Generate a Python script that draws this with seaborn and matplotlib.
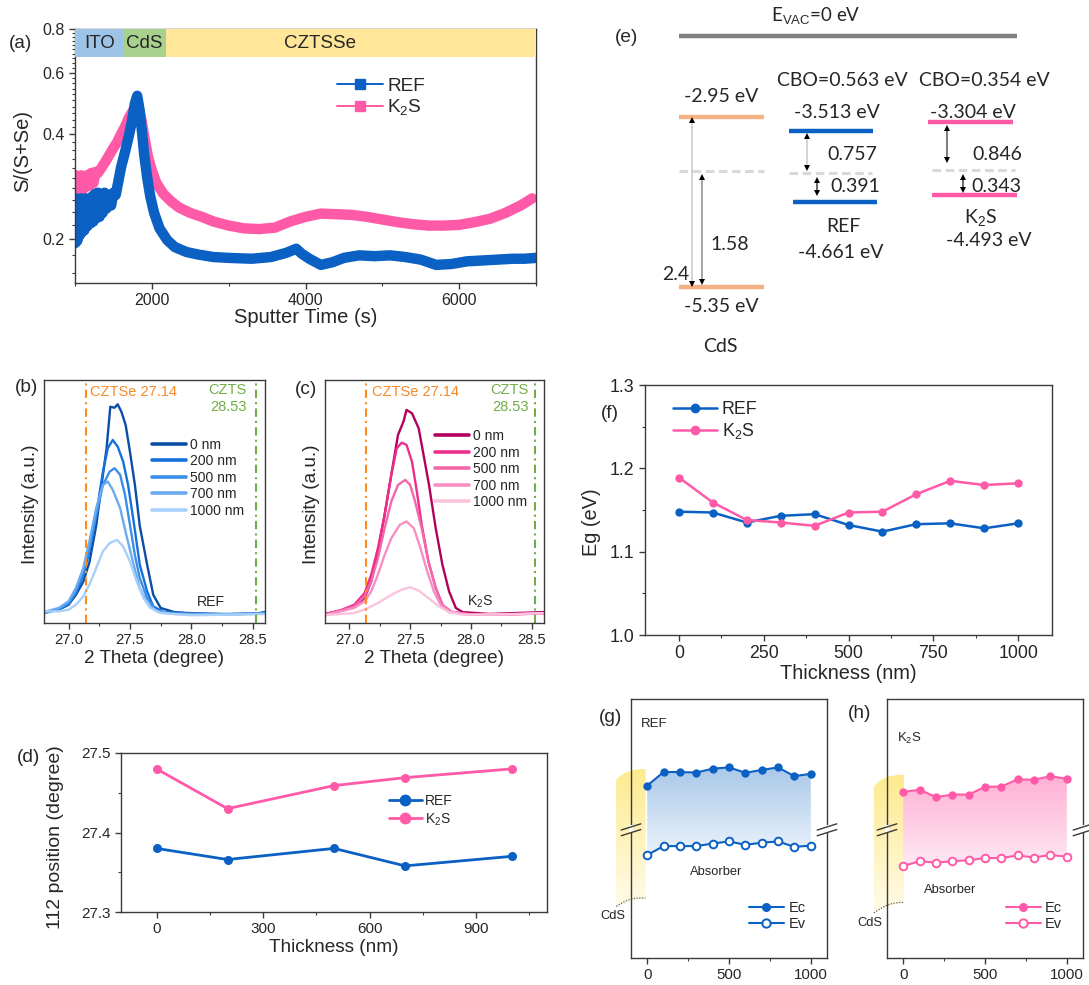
import numpy as np
import pandas as pd
import matplotlib
matplotlib.use("Agg")
import matplotlib.pyplot as plt
import matplotlib.ticker as mticker
import seaborn as sns
from matplotlib.lines import Line2D
from matplotlib.patches import Rectangle, PathPatch
from matplotlib.path import Path
from matplotlib.colors import to_rgb
from matplotlib.transforms import blended_transform_factory

# ---------------- data ----------------
# (a) S/(S+Se) depth profile
ref_time = [1000, 1015, 1030, 1045, 1060, 1075, 1090, 1105, 1120, 1140, 1160, 1180, 1200, 1220,
            1240, 1260, 1280, 1300, 1320, 1340, 1360, 1385, 1410, 1440, 1470, 1500, 1530,
            1560, 1600, 1650, 1700, 1740, 1780, 1810, 1840, 1870, 1900,
            1940, 1980, 2030, 2100, 2200, 2300, 2450, 2600, 2800, 3000, 3300, 3550, 3750, 3880,
            3950, 4050, 4200, 4350, 4500, 4700, 4900, 5100, 5300, 5500, 5700, 5900, 6100, 6300,
            6500, 6700, 6850, 7000]
ref_ratio = [0.195, 0.262, 0.198, 0.255, 0.205, 0.262, 0.210, 0.250, 0.212, 0.262, 0.218, 0.258,
             0.222, 0.265, 0.225, 0.270, 0.230, 0.272, 0.232, 0.268, 0.238, 0.272, 0.245, 0.268,
             0.250, 0.272, 0.268, 0.290, 0.322, 0.355, 0.395, 0.435, 0.490,
             0.515, 0.470, 0.410, 0.350, 0.300, 0.265, 0.238, 0.215, 0.199, 0.190, 0.184, 0.181,
             0.178, 0.177, 0.176, 0.178, 0.183, 0.188, 0.182, 0.176, 0.169, 0.172, 0.177, 0.180,
             0.179, 0.180, 0.178, 0.175, 0.169, 0.170, 0.173, 0.174, 0.175, 0.176, 0.176, 0.177]
k2s_time = [1000, 1015, 1030, 1045, 1060, 1080, 1100, 1120, 1140, 1165, 1190, 1215, 1240, 1270,
            1300, 1350, 1400, 1450, 1500, 1550,
            1600, 1650, 1700, 1750, 1800, 1830, 1860, 1900, 1950, 2000, 2060, 2150, 2250, 2350,
            2500, 2650, 2800, 3000, 3200, 3400, 3600, 3800, 4000, 4200, 4400, 4600, 4800, 5000,
            5200, 5400, 5600, 5800, 6000, 6200, 6400, 6600, 6800, 6950]
k2s_ratio = [0.268, 0.305, 0.270, 0.302, 0.275, 0.305, 0.278, 0.300, 0.282, 0.306, 0.285, 0.310,
             0.290, 0.312, 0.310, 0.322, 0.335, 0.350,
             0.365, 0.380, 0.400, 0.420, 0.445, 0.465, 0.480, 0.475, 0.445, 0.395, 0.345, 0.315,
             0.290, 0.270, 0.257, 0.247, 0.238, 0.232, 0.225, 0.219, 0.215, 0.214, 0.216, 0.225,
             0.232, 0.237, 0.236, 0.235, 0.232, 0.228, 0.224, 0.221, 0.219, 0.219, 0.220, 0.224,
             0.229, 0.238, 0.250, 0.262]
layer_names = ["ITO", "CdS", "CZTSSe"]
layer_edges = [1000, 1630, 2185, 7000]

# (b)/(c) XRD (112) peak at different depths: (2theta, intensity a.u.)
depth_labels = ["0 nm", "200 nm", "500 nm", "700 nm", "1000 nm"]
ref_xrd_0 = [(26.80, 4.5), (26.92, 5.5), (27.00, 7.5), (27.06, 11.6), (27.12, 17), (27.17, 25),
             (27.225, 40), (27.28, 61), (27.31, 72), (27.34, 89), (27.375, 88.6), (27.40, 90),
             (27.43, 87), (27.465, 81.5), (27.50, 70.5), (27.54, 57), (27.58, 40), (27.64, 24),
             (27.69, 11.6), (27.75, 6.2), (27.86, 4.5), (28.0, 4.0), (28.27, 3.7), (28.52, 3.8),
             (28.60, 4.5)]
ref_xrd_200 = [(26.80, 4.1), (26.92, 5.5), (27.00, 7.8), (27.06, 12.3), (27.12, 19.9), (27.17, 29.5),
               (27.225, 44.5), (27.28, 62.3), (27.32, 72), (27.36, 75.3), (27.40, 72.6),
               (27.445, 66.4), (27.485, 56.8), (27.53, 41.8), (27.58, 24), (27.64, 13), (27.69, 6.8),
               (27.775, 4.5), (28.0, 3.8), (28.3, 3.6), (28.6, 4.0)]
ref_xrd_500 = [(26.80, 4.1), (26.92, 5.8), (27.00, 8.2), (27.06, 13), (27.12, 21.2), (27.17, 30.8),
               (27.225, 44.5), (27.28, 56.8), (27.335, 62.3), (27.375, 63.7), (27.42, 61),
               (27.46, 52.7), (27.50, 40.4), (27.54, 28), (27.58, 18.5), (27.64, 10.3),
               (27.705, 5.5), (27.80, 4.1), (28.0, 3.7), (28.3, 3.6), (28.6, 4.0)]
ref_xrd_700 = [(26.80, 4.5), (26.92, 6.2), (27.00, 8.9), (27.06, 14.4), (27.12, 22.6), (27.17, 33.6),
               (27.225, 47.3), (27.28, 56.8), (27.32, 58.2), (27.36, 54.8), (27.42, 47.3),
               (27.47, 36.3), (27.53, 24), (27.58, 14.4), (27.64, 8.2), (27.72, 4.8), (27.86, 3.7),
               (28.1, 3.6), (28.4, 3.6), (28.6, 3.9)]
ref_xrd_1000 = [(26.80, 4.8), (26.92, 4.8), (27.00, 5.5), (27.06, 7.5), (27.12, 11), (27.17, 15.8),
                (27.225, 22.6), (27.28, 29.5), (27.335, 32.9), (27.395, 34.2), (27.445, 31.5),
                (27.50, 25.3), (27.555, 17.1), (27.61, 10.3), (27.665, 6.2), (27.75, 4.1),
                (28.0, 3.2), (28.3, 3.4), (28.6, 3.7)]
k2s_xrd_0 = [(26.80, 3.7), (26.93, 5.1), (27.04, 6.8), (27.125, 10.3), (27.18, 17.1), (27.235, 29.5),
             (27.29, 44.5), (27.345, 61), (27.40, 77.4), (27.445, 82.9), (27.47, 87.7), (27.515, 86.3),
             (27.57, 80.1), (27.61, 69.2), (27.655, 56.8), (27.71, 39), (27.765, 24), (27.82, 13),
             (27.875, 6.2), (27.93, 4.5), (28.15, 3.7), (28.6, 4.5)]
k2s_xrd_200 = [(26.80, 3.7), (26.93, 5.3), (27.04, 7.5), (27.125, 12.3), (27.18, 19.9), (27.235, 30.8),
               (27.29, 44.5), (27.345, 61), (27.39, 71.9), (27.43, 74.2), (27.47, 73.3), (27.515, 66.4),
               (27.555, 54.1), (27.595, 40.4), (27.65, 25.3), (27.71, 14.4), (27.765, 7.5),
               (27.82, 4.5), (28.0, 3.7), (28.3, 3.6), (28.6, 4.0)]
k2s_xrd_500 = [(26.80, 3.4), (26.93, 5.1), (27.04, 6.8), (27.125, 11), (27.18, 17.1), (27.235, 26.7),
               (27.29, 39), (27.345, 50), (27.40, 56.8), (27.46, 58.9), (27.50, 56.8), (27.54, 50),
               (27.595, 39), (27.65, 25.3), (27.71, 14.4), (27.765, 7.5), (27.845, 4.5), (28.0, 3.4),
               (28.3, 3.5), (28.6, 4.0)]
k2s_xrd_700 = [(26.80, 3.4), (26.93, 4.8), (27.04, 6.2), (27.125, 8.9), (27.18, 13), (27.235, 19.9),
               (27.29, 28), (27.345, 34.9), (27.415, 40.4), (27.47, 41.8), (27.53, 39), (27.585, 30.8),
               (27.64, 21.2), (27.695, 13), (27.75, 7.5), (27.82, 4.8), (28.0, 3.4), (28.3, 3.5),
               (28.6, 3.9)]
k2s_xrd_1000 = [(26.80, 3.2), (26.93, 3.7), (27.04, 4.1), (27.125, 5.5), (27.235, 8.2), (27.345, 11.6),
                (27.43, 13.7), (27.50, 14.7), (27.57, 13.3), (27.65, 10.3), (27.735, 6.8), (27.82, 4.5),
                (27.93, 3.4), (28.3, 3.6), (28.6, 4.1)]
cztse_peak = 27.14
czts_peak = 28.53

# (d) 112 peak position vs thickness
pos_thick = [0, 200, 500, 700, 1000]
ref_pos = [27.380, 27.366, 27.380, 27.358, 27.370]
k2s_pos = [27.480, 27.430, 27.459, 27.469, 27.480]

# (e) band alignment
mat_names = ["CdS", "REF", "K$_2$S"]
cb_energy = [-2.95, -3.513, -3.304]
vb_energy = [-5.35, -4.661, -4.493]
cbo_values = [None, 0.563, 0.354]
upper_gaps = ["2.4", "0.757", "0.846"]
lower_gaps = ["1.58", "0.391", "0.343"]

# (f) band gap vs thickness
eg_thick = [0, 100, 200, 300, 400, 500, 600, 700, 800, 900, 1000]
ref_eg = [1.148, 1.147, 1.135, 1.143, 1.145, 1.132, 1.124, 1.133, 1.134, 1.128, 1.134]
k2s_eg = [1.189, 1.159, 1.138, 1.135, 1.131, 1.147, 1.148, 1.169, 1.185, 1.180, 1.182]

# (g)/(h) relative band edges (arb. units)
ref_ec = [0.666, 0.718, 0.718, 0.716, 0.731, 0.736, 0.715, 0.726, 0.736, 0.702, 0.711]
ref_ev = [0.398, 0.432, 0.432, 0.432, 0.442, 0.450, 0.437, 0.445, 0.450, 0.429, 0.434]
k2s_ec = [0.641, 0.650, 0.621, 0.631, 0.631, 0.661, 0.662, 0.690, 0.688, 0.702, 0.692]
k2s_ev = [0.355, 0.374, 0.368, 0.374, 0.377, 0.386, 0.386, 0.396, 0.388, 0.398, 0.391]

# ---------------- style ----------------
sns.set_style("ticks")
plt.rcParams["font.family"] = ["Liberation Sans", "DejaVu Sans"]
plt.rcParams["mathtext.fontset"] = "custom"
plt.rcParams["mathtext.rm"] = "Liberation Sans"
plt.rcParams["mathtext.it"] = "Liberation Sans:italic"
plt.rcParams["mathtext.bf"] = "Liberation Sans:bold"
plt.rcParams["axes.edgecolor"] = "#3a3a3a"
plt.rcParams["axes.linewidth"] = 1.0

BLUE = "#0b60c4"
PINK = "#ff5aa8"
ref_shades = ["#0a4ea6", "#1670dc", "#3a8ee8", "#69aaf0", "#a8d0f8"]
k2s_shades = ["#b3005c", "#ec2e8c", "#f468aa", "#f78fc2", "#fbc3dd"]

W, H = 1089, 985
fig = plt.figure(figsize=(W / 100, H / 100), dpi=100)


def box(x0, y0, x1, y1):
    return [x0 / W, 1 - y1 / H, (x1 - x0) / W, (y1 - y0) / H]


def ftext(x, y, s, **kw):
    fig.text(x / W, 1 - y / H, s, **kw)


def style_ticks(ax, size):
    ax.tick_params(axis="both", which="major", direction="out", length=4, width=1,
                   labelsize=size, color="#3a3a3a", top=False, right=False)
    ax.tick_params(axis="both", which="minor", direction="out", length=2.5, width=0.8,
                   color="#3a3a3a", top=False, right=False)
    for s in ax.spines.values():
        s.set_visible(True)


# ---------------- (a) ----------------
ax = fig.add_axes(box(75, 29, 536, 283))
df_a = pd.concat([
    pd.DataFrame({"t": k2s_time, "r": k2s_ratio, "s": "K2S"}),
    pd.DataFrame({"t": ref_time, "r": ref_ratio, "s": "REF"}),
])
ax.set_yscale("log")
sns.lineplot(data=df_a, x="t", y="r", hue="s", palette=[PINK, BLUE], lw=7.5, sort=False,
             estimator=None, legend=False, ax=ax)
for name, x0, x1, c in zip(layer_names, layer_edges[:-1], layer_edges[1:],
                           ["#9dc3e6", "#a9d18e", "#ffe699"]):
    ax.fill_between([x0, x1], 0.665, 0.8, color=c, lw=0, zorder=3)
band_text_x = [1315, 1905, 4190]
for name, tx in zip(layer_names, band_text_x):
    ax.text(tx, 0.728, name, ha="center", va="center", fontsize=13.5, zorder=4)
ax.set_xlim(1000, 7000)
ax.set_ylim(0.15, 0.8)
ax.xaxis.set_major_locator(mticker.FixedLocator([2000, 4000, 6000]))
ax.xaxis.set_minor_locator(mticker.FixedLocator([1000, 3000, 5000, 7000]))
ax.yaxis.set_major_locator(mticker.FixedLocator([0.2, 0.4, 0.6, 0.8]))
ax.yaxis.set_major_formatter(mticker.FixedFormatter(["0.2", "0.4", "0.6", "0.8"]))
ax.yaxis.set_minor_locator(mticker.FixedLocator(np.arange(0.16, 0.8, 0.02)))
ax.yaxis.set_minor_formatter(mticker.NullFormatter())
style_ticks(ax, 11.5)
ax.set_xlabel("Sputter Time (s)", fontsize=14.5)
ax.set_ylabel("S/(S+Se)", fontsize=14.5)
ax.xaxis.set_label_coords(0.5, -0.1)
ax.yaxis.set_label_coords(-0.093, 0.52)
h_a = [Line2D([], [], color=BLUE, lw=1.4, marker="s", ms=6.5),
       Line2D([], [], color=PINK, lw=1.4, marker="s", ms=6.5)]
ax.legend(h_a, ["REF", "K$_2$S"], loc="upper left", bbox_to_anchor=(0.568, 0.81),
          frameon=False, fontsize=13.7, handlelength=2.4, handletextpad=0.25,
          labelspacing=0.15, borderpad=0, borderaxespad=0)
ftext(21, 43, "(a)", fontsize=13.7, ha="center", va="center")


# ---------------- (b), (c) ----------------
def xrd_panel(rect, curves, shades, sample, tag, tag_pos, leg_anchor, sample_x, text_xs):
    ax = fig.add_axes(rect)
    frames = []
    for lab, pts in zip(depth_labels, curves):
        arr = np.array(pts)
        frames.append(pd.DataFrame({"tt": arr[:, 0], "I": arr[:, 1], "d": lab}))
    df = pd.concat(frames)
    sns.lineplot(data=df, x="tt", y="I", hue="d", palette=shades, lw=1.7, sort=False,
                 estimator=None, legend=False, ax=ax)
    ax.axvline(cztse_peak, color="#ff8c1a", lw=1.5, ls=(0, (4, 2, 1, 2)))
    ax.axvline(czts_peak, color="#70ad47", lw=1.5, ls=(0, (4, 2, 1, 2)))
    ax.set_xlim(26.8, 28.6)
    ax.set_ylim(0, 100)
    ax.set_yticks([])
    ax.xaxis.set_major_locator(mticker.MultipleLocator(0.5))
    ax.xaxis.set_minor_locator(mticker.MultipleLocator(0.25))
    ax.xaxis.set_major_formatter(mticker.FormatStrFormatter("%.1f"))
    style_ticks(ax, 10.6)
    ax.set_xlabel("2 Theta (degree)", fontsize=13.6)
    ax.set_ylabel("Intensity (a.u.)", fontsize=13.6)
    ax.xaxis.set_label_coords(0.5, -0.11)
    ax.yaxis.set_label_coords(-0.024, 0.49)
    tr = blended_transform_factory(ax.transData, ax.transAxes)
    ax.text(text_xs[0], 0.952, "CZTSe 27.14", color="#f5892a", fontsize=10.5,
            ha="left", va="center", transform=tr)
    ax.text(text_xs[1], 0.959, "CZTS", color="#70ad47", fontsize=10.5,
            ha="right", va="center", transform=tr)
    ax.text(text_xs[1], 0.889, "28.53", color="#70ad47", fontsize=10.5,
            ha="right", va="center", transform=tr)
    ax.text(sample_x, 0.088, sample, fontsize=10.2, ha="center", va="center", transform=tr)
    hs = [Line2D([], [], color=c, lw=2.6) for c in shades]
    ax.legend(hs, depth_labels, loc="upper left", bbox_to_anchor=leg_anchor, frameon=False,
              fontsize=10, handlelength=2.5, handletextpad=0.25, labelspacing=0.18,
              borderpad=0, borderaxespad=0)
    ftext(tag_pos[0], tag_pos[1], tag, fontsize=13.7, ha="center", va="center")


xrd_panel(box(44, 380, 265, 623),
          [ref_xrd_0, ref_xrd_200, ref_xrd_500, ref_xrd_700, ref_xrd_1000],
          ref_shades, "REF", "(b)", (26, 388), (0.487, 0.762), 28.16, (27.175, 28.453))
xrd_panel(box(325, 380, 544, 623),
          [k2s_xrd_0, k2s_xrd_200, k2s_xrd_500, k2s_xrd_700, k2s_xrd_1000],
          k2s_shades, "K$_2$S", "(c)", (306, 389), (0.501, 0.797), 28.074, (27.186, 28.474))

# ---------------- (d) ----------------
ax = fig.add_axes(box(121, 753, 547, 912))
sns.lineplot(x=pos_thick, y=ref_pos, color=BLUE, lw=2, marker="o", ms=6.5, mew=0, ax=ax)
sns.lineplot(x=pos_thick, y=k2s_pos, color=PINK, lw=2, marker="o", ms=6.5, mew=0, ax=ax)
ax.set_xlim(-100, 1100)
ax.set_ylim(27.3, 27.5)
ax.xaxis.set_major_locator(mticker.FixedLocator([0, 300, 600, 900]))
ax.xaxis.set_minor_locator(mticker.FixedLocator([150, 450, 750, 1050]))
ax.yaxis.set_major_locator(mticker.MultipleLocator(0.1))
ax.yaxis.set_minor_locator(mticker.MultipleLocator(0.05))
ax.yaxis.set_major_formatter(mticker.FormatStrFormatter("%.1f"))
style_ticks(ax, 11)
ax.set_xlabel("Thickness (nm)", fontsize=13.7)
ax.set_ylabel("112 position (degree)", fontsize=14)
ax.xaxis.set_label_coords(0.5, -0.17)
ax.yaxis.set_label_coords(-0.134, 0.47)
h_d = [Line2D([], [], color=BLUE, lw=2, marker="o", ms=8.5, mew=0),
       Line2D([], [], color=PINK, lw=2, marker="o", ms=8.5, mew=0)]
ax.legend(h_d, ["REF", "K$_2$S"], loc="upper left", bbox_to_anchor=(0.628, 0.74),
          frameon=False, fontsize=10, handlelength=2.4, handletextpad=0.25,
          labelspacing=0.2, borderpad=0, borderaxespad=0)
ftext(29, 758, "(d)", fontsize=13.7, ha="center", va="center")

# ---------------- (e) band alignment sketch ----------------
ax = fig.add_axes(box(600, 0, 1089, 360))
ax.set_xlim(600, 1089)
ax.set_ylim(360, 0)
ax.axis("off")
efont = dict(family=["Lato", "DejaVu Sans"], fontsize=14, ha="center", va="center")
mat_colors = ["#f4b183", BLUE, PINK]
cb_y = [117, 131, 122]
vb_y = [287, 202, 195]
mid_y = [171, 173, 170]
cb_x = [(679, 764), (789, 873), (928, 1013)]
vb_x = [(679, 764), (793, 877), (932, 1017)]
mid_x = [(679, 764), (789, 872), (932, 1015)]
ax.plot([679, 1017], [36, 36], color="#808080", lw=3.2, solid_capstyle="butt")
ax.text(816, 16, "E$_{\\mathrm{VAC}}$=0 eV", **{**efont, "fontsize": 13.5})
for i in range(3):
    ax.plot(cb_x[i], [cb_y[i]] * 2, color=mat_colors[i], lw=3.2, solid_capstyle="butt")
    ax.plot(vb_x[i], [vb_y[i]] * 2, color=mat_colors[i], lw=3.2, solid_capstyle="butt")
    ax.plot(mid_x[i], [mid_y[i]] * 2, color="#d9d9d9", lw=2.2, ls=(0, (2.8, 1.5)))
cb_lab = [(721, 96), (837, 113), (973, 113)]
vb_lab = [(721, 306), (841, 252), (989, 241)]
nm_lab = [(720, 346), (843, 227), (980, 217)]
for i in range(3):
    ax.text(*cb_lab[i], f"{cb_energy[i]:.{2 if i == 0 else 3}f} eV", **efont)
    ax.text(*vb_lab[i], f"{vb_energy[i]:.{2 if i == 0 else 3}f} eV", **efont)
    ax.text(*nm_lab[i], mat_names[i], **efont)
ax.text(842, 80, f"CBO={cbo_values[1]:.3f} eV", **efont)
ax.text(984, 80, f"CBO={cbo_values[2]:.3f} eV", **efont)


def gap_arrow(x, y0, y1, lc):
    ax.plot([x, x], [y0 + 3, y1 - 3], color=lc, lw=1.1)
    ax.plot([x], [y0 + 3], marker="^", color="k", ms=4.2, mew=0)
    ax.plot([x], [y1 - 3], marker="v", color="k", ms=4.2, mew=0)


up_arrows = [(691.7, 117, 287, "#c8c8c8"), (807, 133, 171, "#c8c8c8"), (947, 125, 163, "#595959")]
low_arrows = [(702, 174, 285, "#8c8c8c"), (817, 177, 196, "#404040"), (963, 174, 193, "#404040")]
up_txt = [(689, 274, "right"), (827, 155, "left"), (972, 155, "left")]
low_txt = [(710, 244, "left"), (830, 186, "left"), (971, 186, "left")]
for i in range(3):
    gap_arrow(*up_arrows[i])
    gap_arrow(*low_arrows[i])
    ax.text(up_txt[i][0], up_txt[i][1], upper_gaps[i],
            **{**efont, "ha": up_txt[i][2]})
    ax.text(low_txt[i][0], low_txt[i][1], lower_gaps[i],
            **{**efont, "ha": low_txt[i][2]})
ftext(627, 38, "(e)", fontsize=13.7, ha="center", va="center")

# ---------------- (f) ----------------
ax = fig.add_axes(box(645, 385, 1052, 635))
sns.lineplot(x=eg_thick, y=ref_eg, color=BLUE, lw=1.8, marker="o", ms=6, mew=0, ax=ax)
sns.lineplot(x=eg_thick, y=k2s_eg, color=PINK, lw=1.8, marker="o", ms=6, mew=0, ax=ax)
ax.set_xlim(-100, 1100)
ax.set_ylim(1.0, 1.3)
ax.xaxis.set_major_locator(mticker.FixedLocator([0, 250, 500, 750, 1000]))
ax.xaxis.set_minor_locator(mticker.FixedLocator([125, 375, 625, 875]))
ax.yaxis.set_major_locator(mticker.MultipleLocator(0.1))
ax.yaxis.set_minor_locator(mticker.MultipleLocator(0.05))
ax.yaxis.set_major_formatter(mticker.FormatStrFormatter("%.1f"))
style_ticks(ax, 12.8)
ax.set_xlabel("Thickness (nm)", fontsize=14.4)
ax.set_ylabel("Eg (eV)", fontsize=14.4)
ax.xaxis.set_label_coords(0.5, -0.115)
ax.yaxis.set_label_coords(-0.108, 0.45)
h_f = [Line2D([], [], color=BLUE, lw=1.8, marker="o", ms=7, mew=0),
       Line2D([], [], color=PINK, lw=1.8, marker="o", ms=7, mew=0)]
ax.legend(h_f, ["REF", "K$_2$S"], loc="upper left", bbox_to_anchor=(0.068, 0.935),
          frameon=False, fontsize=12.8, handlelength=2.5, handletextpad=0.25,
          labelspacing=0.15, borderpad=0, borderaxespad=0)
ftext(610, 414, "(f)", fontsize=13.7, ha="center", va="center")


# ---------------- (g), (h) ----------------
def mix(c1, c2, f):
    a, b = np.array(to_rgb(c1)), np.array(to_rgb(c2))
    return tuple(a + (b - a) * f)


def striped_gradient(ax, path, y_lo, y_hi, x_lo, x_hi, c_top, c_bot, z, n=70):
    clip = PathPatch(path, transform=ax.transData, fc="none", ec="none")
    dy = (y_hi - y_lo) / n
    for k in range(n):
        f = k / (n - 1)
        r = Rectangle((x_lo, y_hi - (k + 1) * dy), x_hi - x_lo, dy * 1.6,
                      color=mix(c_top, c_bot, f), lw=0, zorder=z)
        ax.add_patch(r)
        r.set_clip_path(clip)
        r.set_clip_box(None)


def band_panel(rect, ec, ev, color, fill_top, fill_bot, cds, name, name_pos, absorb_pos,
               tag, tag_pos, cds_lab, leg_x):
    ax = fig.add_axes(rect)
    ax.set_xlim(-100, 1100)
    ax.set_ylim(0, 1)
    x = np.array(eg_thick, dtype=float)
    verts = np.concatenate([np.column_stack([x, ec]), np.column_stack([x[::-1], ev[::-1]]),
                            [[x[0], ec[0]]]])
    striped_gradient(ax, Path(verts, closed=True), min(ev), max(ec), x.min(), x.max(),
                     fill_top, fill_bot, 0.5)
    # CdS wedge
    xl, xr, tl, tr_, bl, br = cds
    w = xr - xl
    shape = Path([(xl, bl), (xl, tl), (xl + 0.35 * w, tr_ + 0.004), (xr, tr_), (xr, br),
                  (xl + 0.5 * w, br - 0.01), (xl, bl), (xl, bl)],
                 [Path.MOVETO, Path.LINETO, Path.CURVE3, Path.CURVE3, Path.LINETO,
                  Path.CURVE3, Path.CURVE3, Path.CLOSEPOLY])
    striped_gradient(ax, shape, bl - 0.02, tr_ + 0.01, xl - 5, xr + 5, "#fde98c", "#fffbea",
                     0.4, n=60)
    bx = np.linspace(0, 1, 20)
    ax.plot(xl + bx * w, bl + (br - bl) * bx + 0.012 * np.sin(np.pi * bx), color="#606060",
            lw=0.9, ls=(0, (1, 1.2)), clip_on=False)
    sns.lineplot(x=eg_thick, y=ec, color=color, lw=1.5, marker="o", ms=6, mew=0, ax=ax)
    sns.lineplot(x=eg_thick, y=ev, color=color, lw=1.5, marker="o", ms=5.5, mfc="white",
                 mec=color, mew=1.4, ax=ax)
    ax.set_xlim(-100, 1100)
    ax.set_ylim(0, 1)
    ax.set_yticks([])
    ax.xaxis.set_major_locator(mticker.FixedLocator([0, 500, 1000]))
    ax.xaxis.set_minor_locator(mticker.FixedLocator([250, 750]))
    style_ticks(ax, 10.8)
    ax.set_xlabel("")
    ax.set_ylabel("")
    # axis break marks
    yb = 0.495
    for xs in (0, 1):
        ax.add_patch(Rectangle((xs - 0.012, yb - 0.012), 0.024, 0.03, transform=ax.transAxes,
                               color="white", lw=0, clip_on=False, zorder=5))
        for off in (-0.011, 0.011):
            ax.plot([xs - 0.05, xs + 0.05], [yb + off - 0.012, yb + off + 0.012],
                    transform=ax.transAxes, color="#3a3a3a", lw=1, clip_on=False, zorder=6)
    ax.text(name_pos[0], name_pos[1], name, transform=ax.transAxes, fontsize=9.5,
            ha="left", va="center")
    ax.text(absorb_pos[0], absorb_pos[1], "Absorber", transform=ax.transAxes, fontsize=9.3,
            ha="center", va="center")
    ftext(cds_lab[0], cds_lab[1], "CdS", fontsize=9.3, ha="center", va="center")
    hs = [Line2D([], [], color=color, lw=1.5, marker="o", ms=6.5, mew=0),
          Line2D([], [], color=color, lw=1.5, marker="o", ms=6, mfc="white", mec=color, mew=1.4)]
    ax.legend(hs, ["Ec", "Ev"], loc="upper left", bbox_to_anchor=(leg_x, 0.22), frameon=False,
              fontsize=10.5, handlelength=2.4, handletextpad=0.3, labelspacing=0.15,
              borderpad=0, borderaxespad=0)
    ftext(tag_pos[0], tag_pos[1], tag, fontsize=13.7, ha="center", va="center")


band_panel(box(631, 699, 827, 958), ref_ec, ref_ev, BLUE, "#a8c8e8", "#eaf2fb",
           (-190, -12, 0.688, 0.729, 0.199, 0.231), "REF", (0.05, 0.903), (0.432, 0.333),
           "(g)", (610, 718), (613, 916), 0.602)
band_panel(box(887, 699, 1083, 958), k2s_ec, k2s_ev, PINK, "#ffafd3", "#fde8f2",
           (-180, 4, 0.662, 0.707, 0.174, 0.215), "K$_2$S", (0.051, 0.849), (0.321, 0.263),
           "(h)", (860, 714), (870, 923), 0.606)

fig.savefig("out.png", dpi=100)
plt.close(fig)
